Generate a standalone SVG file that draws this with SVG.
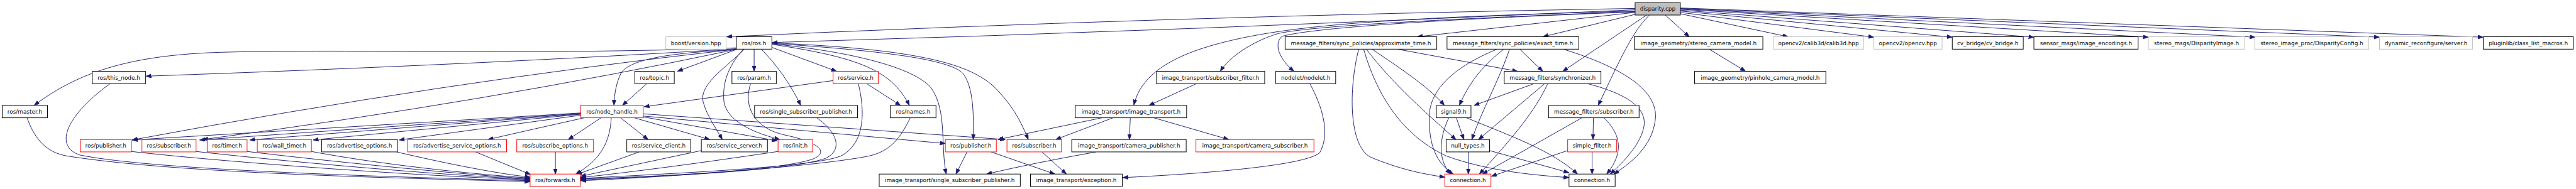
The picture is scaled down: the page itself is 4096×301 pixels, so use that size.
<svg xmlns="http://www.w3.org/2000/svg" width="4096" height="301" viewBox="0 0 4096 301">
<defs>
<style>
.e{fill:none;stroke:#191970;stroke-width:1.35;marker-end:url(#ah)}
.b{fill:#fff;stroke:#000;stroke-width:1.4}
.r{fill:#fff;stroke:#ff0000;stroke-width:1.4}
.g{fill:#fff;stroke:#bfbfbf;stroke-width:1.4}
.root{fill:#bfbfbf;stroke:#000;stroke-width:1.4}
text{font-family:"DejaVu Sans","Liberation Sans",sans-serif;font-size:12.6px;fill:#000;text-anchor:middle}
</style>
<marker id="ah" markerUnits="userSpaceOnUse" markerWidth="13" markerHeight="10" refX="12" refY="4.5" orient="auto">
<path d="M0,0 L12,4.5 L0,9 z" fill="#191970" stroke="#191970" stroke-width="1"/>
</marker>
</defs>
<rect width="4096" height="301" fill="#fff"/>
<g transform="scale(0.70535)">
<g id="connectors">
<path class="e" d="M3686,19 Q2600,38 1638,83"/>
<path class="e" d="M3686,22 Q2700,68 1741,96"/>
<path class="e" d="M3686,25 C3100,40 2900,60 2760,95 C2620,130 2570,180 2556,237"/>
<path class="e" d="M3686,26 C3200,45 2950,60 2880,76 C2820,95 2770,130 2751,161"/>
<path class="e" d="M3686,27 C3200,45 2950,65 2890,82 C2870,100 2885,135 2917,161"/>
<path class="e" d="M3686,28 L3195,83"/>
<path class="e" d="M3688,32 L3478,83"/>
<path class="e" d="M3712,34 L3523,161"/>
<path class="e" d="M3718,34 C3685,68 3665,105 3603,238"/>
<path class="e" d="M3754,34 L3808,83"/>
<path class="e" d="M3788,31 L4031,83"/>
<path class="e" d="M3788,28 L4224,84"/>
<path class="e" d="M3788,25 L4401,84"/>
<path class="e" d="M3788,23 L4585,84"/>
<path class="e" d="M3788,21 L4843,84"/>
<path class="e" d="M3788,20 L5084,84"/>
<path class="e" d="M3788,19 L5364,84"/>
<path class="e" d="M3788,18 L5598,84"/>
<path class="e" d="M1660,108 C1200,125 800,110 500,118 C300,124 180,160 77,238"/>
<path class="e" d="M1660,110 Q1100,145 329,172"/>
<path class="e" d="M1660,111 Q1000,185 298,316"/>
<path class="e" d="M1662,111 Q1100,230 457,315"/>
<path class="e" d="M1662,111 L1527,161"/>
<path class="e" d="M1658,112 C1500,120 1420,135 1400,165 C1390,185 1385,210 1384,238"/>
<path class="e" d="M1700,111 L1700,161"/>
<path class="e" d="M1678,111 C1640,150 1575,190 1585,230 C1595,265 1615,290 1628,315"/>
<path class="e" d="M1676,111 C1640,150 1628,190 1632,230 C1640,275 1700,300 1758,315"/>
<path class="e" d="M1740,107 L1886,161"/>
<path class="e" d="M1716,111 C1745,140 1780,185 1805,238"/>
<path class="e" d="M1740,100 C1940,130 2010,160 2050,238"/>
<path class="e" d="M1740,99 C1950,120 2070,160 2100,200 C2135,250 2120,330 2133,393"/>
<path class="e" d="M1740,98 C2000,115 2140,135 2170,165 C2195,195 2195,260 2194,315"/>
<path class="e" d="M1740,97 C2050,110 2180,140 2240,195 C2280,235 2300,270 2318,315"/>
<path class="e" d="M1458,189 L1403,238"/>
<path class="e" d="M1692,189 C1675,240 1700,290 1770,305 C1850,322 1870,345 1830,360 C1750,385 1500,398 1309,404"/>
<path class="e" d="M1878,182 L1452,241"/>
<path class="e" d="M1954,189 L2030,238"/>
<path class="e" d="M1935,189 C1950,250 1950,320 1900,350 C1850,378 1500,392 1309,403"/>
<path class="e" d="M1355,266 L1281,315"/>
<path class="e" d="M1399,266 L1461,315"/>
<path class="e" d="M1430,266 L1600,315"/>
<path class="e" d="M1378,266 C1375,320 1355,360 1298,393"/>
<path class="e" d="M1309,255 L298,316"/>
<path class="e" d="M1309,256 L450,316"/>
<path class="e" d="M1309,257 L563,316"/>
<path class="e" d="M1309,258 L706,316"/>
<path class="e" d="M1310,260 L900,316"/>
<path class="e" d="M1317,266 Q1200,292 1100,315"/>
<path class="e" d="M1450,262 L2131,324"/>
<path class="e" d="M1450,257 L2266,315"/>
<path class="e" d="M1450,264 L1752,318"/>
<path class="e" d="M1252,343 L1252,393"/>
<path class="e" d="M1441,343 L1300,394"/>
<path class="e" d="M1581,340 L1309,398"/>
<path class="e" d="M1754,342 Q1500,380 1309,401"/>
<path class="e" d="M296,342 C500,365 900,395 1195,406"/>
<path class="e" d="M442,342 C650,365 950,392 1195,405"/>
<path class="e" d="M557,342 C750,365 1000,390 1195,404"/>
<path class="e" d="M702,342 C850,370 1050,392 1195,402"/>
<path class="e" d="M894,343 C1000,368 1120,392 1195,400"/>
<path class="e" d="M1072,343 L1196,394"/>
<path class="e" d="M248,189 C150,260 120,330 180,350 C350,385 900,400 1195,408"/>
<path class="e" d="M61,266 C80,320 110,345 150,352 C400,392 900,402 1195,410"/>
<path class="e" d="M1841,266 C1890,300 1900,340 1860,358 C1780,385 1500,398 1309,406"/>
<path class="e" d="M2052,266 C2030,310 2010,340 1960,352 C1850,375 1500,400 1309,408"/>
<path class="e" d="M2180,343 L2155,393"/>
<path class="e" d="M2234,343 L2378,393"/>
<path class="e" d="M2349,343 L2404,393"/>
<path class="e" d="M2471,343 Q2330,368 2224,393"/>
<path class="e" d="M2484,266 L2250,315"/>
<path class="e" d="M2509,266 L2380,315"/>
<path class="e" d="M2548,266 L2546,315"/>
<path class="e" d="M2601,266 L2770,315"/>
<path class="e" d="M2697,189 L2590,238"/>
<path class="e" d="M2953,189 C2980,240 3000,300 2975,345 C2940,375 2700,393 2531,401"/>
<path class="e" d="M3150,111 L3421,161"/>
<path class="e" d="M3093,111 C3150,150 3220,195 3256,238"/>
<path class="e" d="M3080,111 C3140,190 3220,260 3282,315"/>
<path class="e" d="M3063,111 C3040,200 3040,330 3090,355 C3150,380 3200,392 3257,400"/>
<path class="e" d="M3074,111 C3100,200 3150,300 3260,352 C3350,385 3450,395 3537,401"/>
<path class="e" d="M3426,111 L3478,161"/>
<path class="e" d="M3390,111 C3340,150 3310,190 3290,238"/>
<path class="e" d="M3403,111 C3380,180 3340,250 3318,315"/>
<path class="e" d="M3375,111 C3280,150 3225,200 3222,260 C3220,330 3240,370 3276,393"/>
<path class="e" d="M3524,111 C3650,150 3735,200 3732,265 C3728,320 3690,360 3638,393"/>
<path class="e" d="M3458,189 L3323,238"/>
<path class="e" d="M3482,189 L3333,315"/>
<path class="e" d="M3489,189 C3460,250 3420,300 3335,393"/>
<path class="e" d="M3579,189 C3680,215 3715,250 3705,290 C3695,330 3660,365 3630,393"/>
<path class="e" d="M3266,266 C3245,310 3240,360 3270,393"/>
<path class="e" d="M3283,266 L3300,315"/>
<path class="e" d="M3306,266 C3400,305 3500,340 3556,393"/>
<path class="e" d="M3310,343 L3310,393"/>
<path class="e" d="M3358,340 L3537,390"/>
<path class="e" d="M3566,266 L3342,393"/>
<path class="e" d="M3592,266 L3591,315"/>
<path class="e" d="M3616,266 C3650,300 3665,340 3622,393"/>
<path class="e" d="M3589,343 L3589,393"/>
<path class="e" d="M3534,340 L3362,398"/>
<path class="e" d="M3853,111 L3935,161"/>
</g>
<g id="disparity_cpp"><rect class="root" x="3686" y="6" width="102" height="28"/><text x="3737" y="24.5">disparity.cpp</text></g>
<g id="boost_version_hpp"><rect class="g" x="1501" y="83" width="136" height="28"/><text x="1569" y="101.5">boost/version.hpp</text></g>
<g id="ros_ros_h"><rect class="b" x="1660" y="83" width="80" height="28"/><text x="1700" y="101.5">ros/ros.h</text></g>
<g id="approximate_time_h"><rect class="b" x="2897" y="83" width="342" height="28"/><text x="3068" y="101.5">message_filters/sync_policies/approximate_time.h</text></g>
<g id="exact_time_h"><rect class="b" x="3262" y="83" width="297" height="28"/><text x="3410.5" y="101.5">message_filters/sync_policies/exact_time.h</text></g>
<g id="stereo_camera_model_h"><rect class="b" x="3684" y="83" width="290" height="28"/><text x="3829" y="101.5">image_geometry/stereo_camera_model.h</text></g>
<g id="calib3d_hpp"><rect class="g" x="3998" y="83" width="203" height="28"/><text x="4099.5" y="101.5">opencv2/calib3d/calib3d.hpp</text></g>
<g id="opencv_hpp"><rect class="g" x="4224" y="83" width="154" height="28"/><text x="4301" y="101.5">opencv2/opencv.hpp</text></g>
<g id="cv_bridge_h"><rect class="b" x="4401" y="83" width="160" height="28"/><text x="4481" y="101.5">cv_bridge/cv_bridge.h</text></g>
<g id="image_encodings_h"><rect class="b" x="4585" y="83" width="235" height="28"/><text x="4702.5" y="101.5">sensor_msgs/image_encodings.h</text></g>
<g id="DisparityImage_h"><rect class="g" x="4843" y="83" width="217" height="28"/><text x="4951.5" y="101.5">stereo_msgs/DisparityImage.h</text></g>
<g id="DisparityConfig_h"><rect class="g" x="5083" y="83" width="257" height="28"/><text x="5211.5" y="101.5">stereo_image_proc/DisparityConfig.h</text></g>
<g id="dynamic_reconfigure_server_h"><rect class="g" x="5364" y="83" width="210" height="28"/><text x="5469" y="101.5">dynamic_reconfigure/server.h</text></g>
<g id="class_list_macros_h"><rect class="b" x="5598" y="83" width="203" height="28"/><text x="5699.5" y="101.5">pluginlib/class_list_macros.h</text></g>
<g id="ros_this_node_h"><rect class="b" x="208" y="161" width="120" height="28"/><text x="268" y="179.5">ros/this_node.h</text></g>
<g id="ros_topic_h"><rect class="b" x="1431" y="161" width="89" height="28"/><text x="1475.5" y="179.5">ros/topic.h</text></g>
<g id="ros_param_h"><rect class="b" x="1650" y="161" width="100" height="28"/><text x="1700" y="179.5">ros/param.h</text></g>
<g id="ros_service_h"><rect class="r" x="1878" y="161" width="102" height="28"/><text x="1929" y="179.5">ros/service.h</text></g>
<g id="subscriber_filter_h"><rect class="b" x="2607" y="161" width="244" height="28"/><text x="2729" y="179.5">image_transport/subscriber_filter.h</text></g>
<g id="nodelet_h"><rect class="b" x="2876" y="161" width="135" height="28"/><text x="2943.5" y="179.5">nodelet/nodelet.h</text></g>
<g id="synchronizer_h"><rect class="b" x="3391" y="161" width="218" height="28"/><text x="3500" y="179.5">message_filters/synchronizer.h</text></g>
<g id="pinhole_camera_model_h"><rect class="b" x="3820" y="161" width="296" height="28"/><text x="3968" y="179.5">image_geometry/pinhole_camera_model.h</text></g>
<g id="ros_master_h"><rect class="b" x="5" y="238" width="102" height="28"/><text x="56" y="256.5">ros/master.h</text></g>
<g id="ros_node_handle_h"><rect class="r" x="1309" y="238" width="141" height="28"/><text x="1379.5" y="256.5">ros/node_handle.h</text></g>
<g id="ros_single_subscriber_publisher_h"><rect class="b" x="1701" y="238" width="232" height="28"/><text x="1817" y="256.5">ros/single_subscriber_publisher.h</text></g>
<g id="ros_names_h"><rect class="b" x="2007" y="238" width="103" height="28"/><text x="2058.5" y="256.5">ros/names.h</text></g>
<g id="image_transport_h"><rect class="b" x="2424" y="238" width="251" height="28"/><text x="2549.5" y="256.5">image_transport/image_transport.h</text></g>
<g id="signal9_h"><rect class="b" x="3238" y="238" width="78" height="28"/><text x="3277" y="256.5">signal9.h</text></g>
<g id="mf_subscriber_h"><rect class="b" x="3491" y="238" width="204" height="28"/><text x="3593" y="256.5">message_filters/subscriber.h</text></g>
<g id="ros_publisher_h_1"><rect class="r" x="181" y="315" width="115" height="28"/><text x="238.5" y="333.5">ros/publisher.h</text></g>
<g id="ros_subscriber_h_1"><rect class="r" x="320" y="315" width="122" height="28"/><text x="381" y="333.5">ros/subscriber.h</text></g>
<g id="ros_timer_h"><rect class="r" x="467" y="315" width="90" height="28"/><text x="512" y="333.5">ros/timer.h</text></g>
<g id="ros_wall_timer_h"><rect class="r" x="580" y="315" width="122" height="28"/><text x="641" y="333.5">ros/wall_timer.h</text></g>
<g id="ros_advertise_options_h"><rect class="b" x="725" y="315" width="171" height="28"/><text x="810.5" y="333.5">ros/advertise_options.h</text></g>
<g id="ros_advertise_service_options_h"><rect class="r" x="919" y="315" width="223" height="28"/><text x="1030.5" y="333.5">ros/advertise_service_options.h</text></g>
<g id="ros_subscribe_options_h"><rect class="r" x="1165" y="315" width="173" height="28"/><text x="1251.5" y="333.5">ros/subscribe_options.h</text></g>
<g id="ros_service_client_h"><rect class="b" x="1413" y="315" width="144" height="28"/><text x="1485" y="333.5">ros/service_client.h</text></g>
<g id="ros_service_server_h"><rect class="b" x="1581" y="315" width="149" height="28"/><text x="1655.5" y="333.5">ros/service_server.h</text></g>
<g id="ros_init_h"><rect class="r" x="1754" y="315" width="78" height="28"/><text x="1793" y="333.5">ros/init.h</text></g>
<g id="ros_publisher_h_2"><rect class="r" x="2131" y="315" width="115" height="28"/><text x="2188.5" y="333.5">ros/publisher.h</text></g>
<g id="ros_subscriber_h_2"><rect class="r" x="2270" y="315" width="123" height="28"/><text x="2331.5" y="333.5">ros/subscriber.h</text></g>
<g id="camera_publisher_h"><rect class="b" x="2416" y="315" width="258" height="28"/><text x="2545" y="333.5">image_transport/camera_publisher.h</text></g>
<g id="camera_subscriber_h"><rect class="r" x="2696" y="315" width="266" height="28"/><text x="2829" y="333.5">image_transport/camera_subscriber.h</text></g>
<g id="null_types_h"><rect class="b" x="3260" y="315" width="98" height="28"/><text x="3309" y="333.5">null_types.h</text></g>
<g id="simple_filter_h"><rect class="r" x="3534" y="315" width="110" height="28"/><text x="3589" y="333.5">simple_filter.h</text></g>
<g id="ros_forwards_h"><rect class="r" x="1195" y="393" width="113" height="28"/><text x="1251.5" y="411.5">ros/forwards.h</text></g>
<g id="it_single_subscriber_publisher_h"><rect class="b" x="1982" y="393" width="318" height="28"/><text x="2141" y="411.5">image_transport/single_subscriber_publisher.h</text></g>
<g id="exception_h"><rect class="b" x="2323" y="393" width="207" height="28"/><text x="2426.5" y="411.5">image_transport/exception.h</text></g>
<g id="connection_h_1"><rect class="r" x="3257" y="393" width="104" height="28"/><text x="3309" y="411.5">connection.h</text></g>
<g id="connection_h_2"><rect class="b" x="3537" y="393" width="104" height="28"/><text x="3589" y="411.5">connection.h</text></g>
</g>
</svg>
